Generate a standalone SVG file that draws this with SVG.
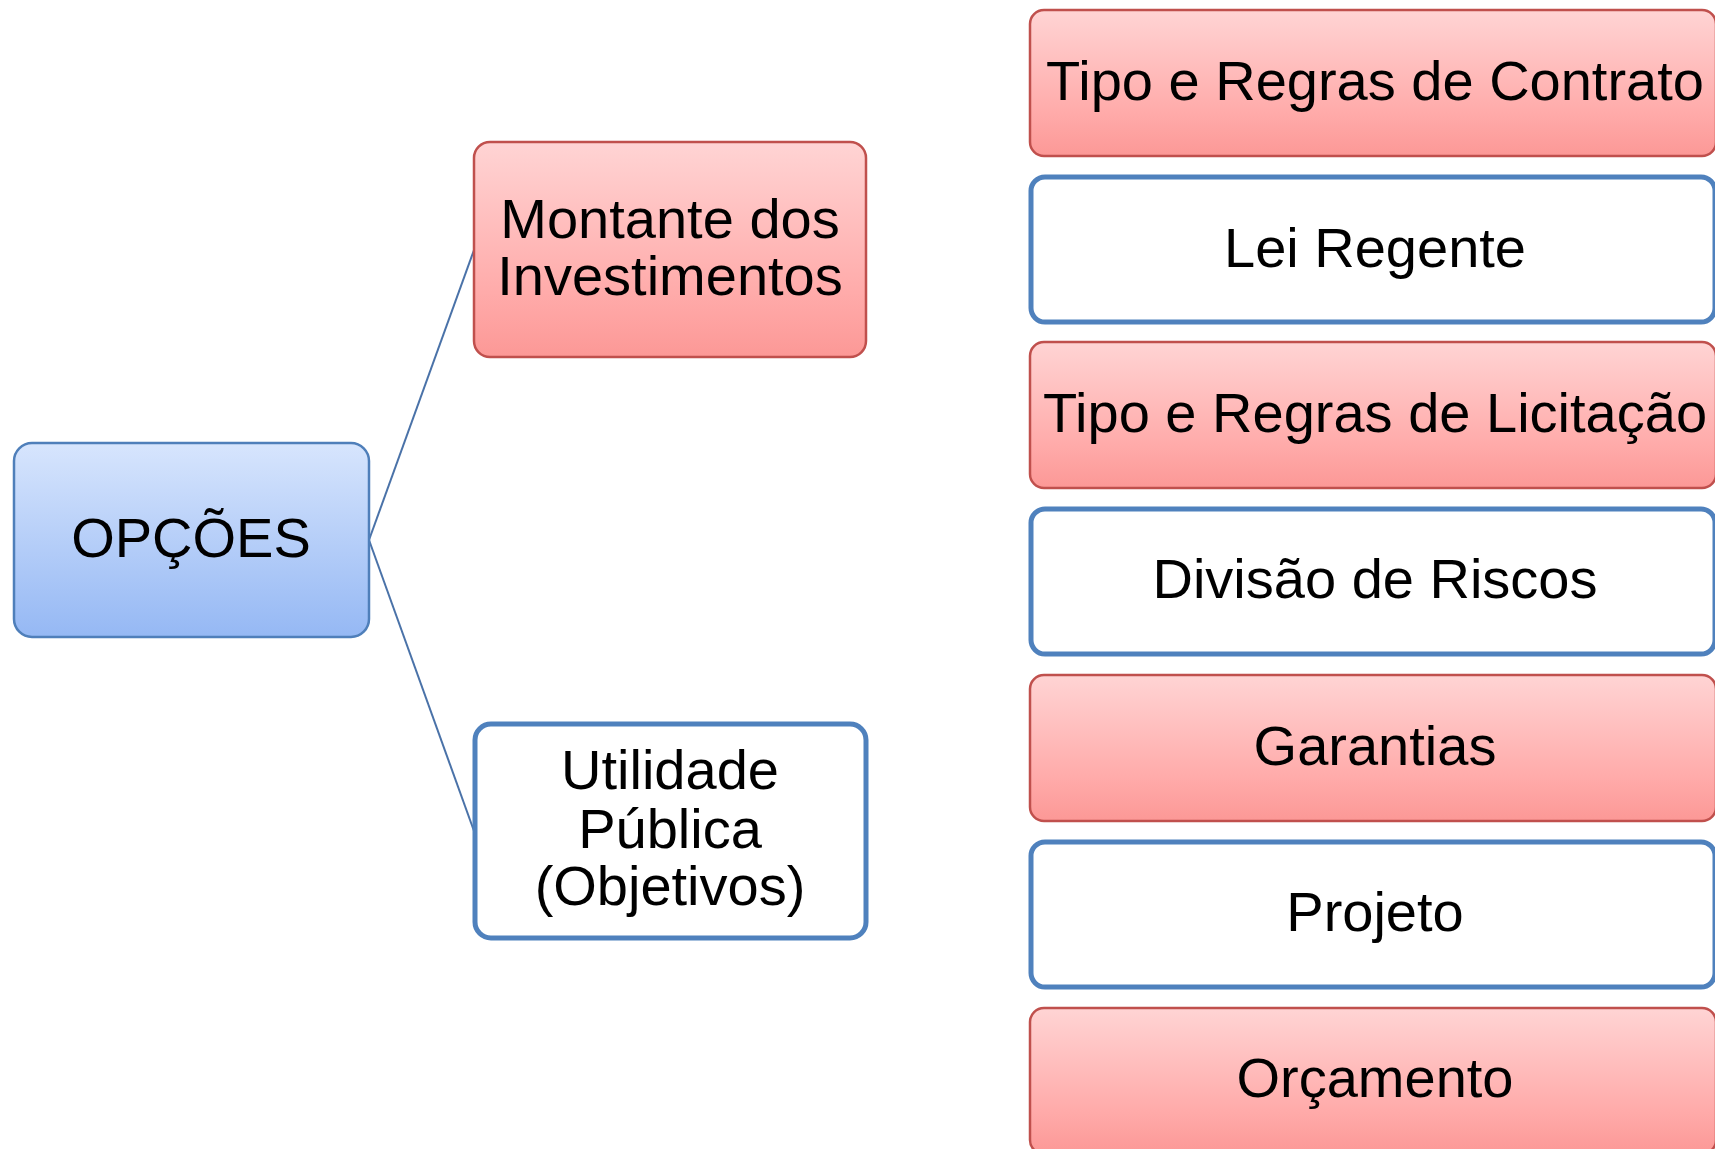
<svg xmlns="http://www.w3.org/2000/svg" width="1715" height="1149" viewBox="0 0 1715 1149">
<defs>
<linearGradient id="gBlue" x1="0" y1="0" x2="0" y2="1">
<stop offset="0" stop-color="#d7e5fd"/>
<stop offset="1" stop-color="#95b8f4"/>
</linearGradient>
<linearGradient id="gRed" x1="0" y1="0" x2="0" y2="1">
<stop offset="0" stop-color="#ffd4d4"/>
<stop offset="0.7" stop-color="#ffabaa"/>
<stop offset="1" stop-color="#fc9896"/>
</linearGradient>
</defs>
<style>
.blue{fill:url(#gBlue);stroke:#4f7fba;stroke-width:2.5}
.red{fill:url(#gRed);stroke:#c0504d;stroke-width:2.5}
.white{fill:#ffffff;stroke:#4f81bd;stroke-width:5}
.t{font-family:"Liberation Sans",Arial,sans-serif;font-size:56px;fill:#000;text-anchor:middle}
.conn{fill:none;stroke:#4a72a8;stroke-width:2}
</style>
<rect width="1715" height="1149" fill="#ffffff"/>
<g id="connectors">
<line class="conn" x1="369" y1="540" x2="474" y2="250"/>
<line class="conn" x1="369" y1="540" x2="474" y2="831"/>
</g>
<g id="opcoes">
<rect class="blue" x="14" y="443" width="355" height="194" rx="18"/>
<text class="t" x="191" y="557">OPÇÕES</text>
</g>
<g id="montante">
<rect class="red" x="474" y="142" width="392" height="215" rx="16"/>
<text class="t" x="670" y="238">Montante dos</text>
<text class="t" x="670" y="295">Investimentos</text>
</g>
<g id="utilidade">
<rect class="white" x="475" y="724" width="391" height="214" rx="16"/>
<text class="t" x="670" y="789">Utilidade</text>
<text class="t" x="670" y="848">Pública</text>
<text class="t" x="670" y="905">(Objetivos)</text>
</g>
<g id="contrato">
<rect class="red" x="1030" y="10" width="686" height="146" rx="14"/>
<text class="t" x="1375" y="100">Tipo e Regras de Contrato</text>
</g>
<g id="lei">
<rect class="white" x="1031" y="177" width="684" height="145" rx="14"/>
<text class="t" x="1375" y="267">Lei Regente</text>
</g>
<g id="licitacao">
<rect class="red" x="1030" y="342" width="686" height="146" rx="14"/>
<text class="t" x="1375" y="432">Tipo e Regras de Licitação</text>
</g>
<g id="riscos">
<rect class="white" x="1031" y="509" width="684" height="145" rx="14"/>
<text class="t" x="1375" y="598">Divisão de Riscos</text>
</g>
<g id="garantias">
<rect class="red" x="1030" y="675" width="686" height="146" rx="14"/>
<text class="t" x="1375" y="765">Garantias</text>
</g>
<g id="projeto">
<rect class="white" x="1031" y="842" width="684" height="145" rx="14"/>
<text class="t" x="1375" y="931">Projeto</text>
</g>
<g id="orcamento">
<rect class="red" x="1030" y="1008" width="686" height="146" rx="14"/>
<text class="t" x="1375" y="1097">Orçamento</text>
</g>
</svg>
